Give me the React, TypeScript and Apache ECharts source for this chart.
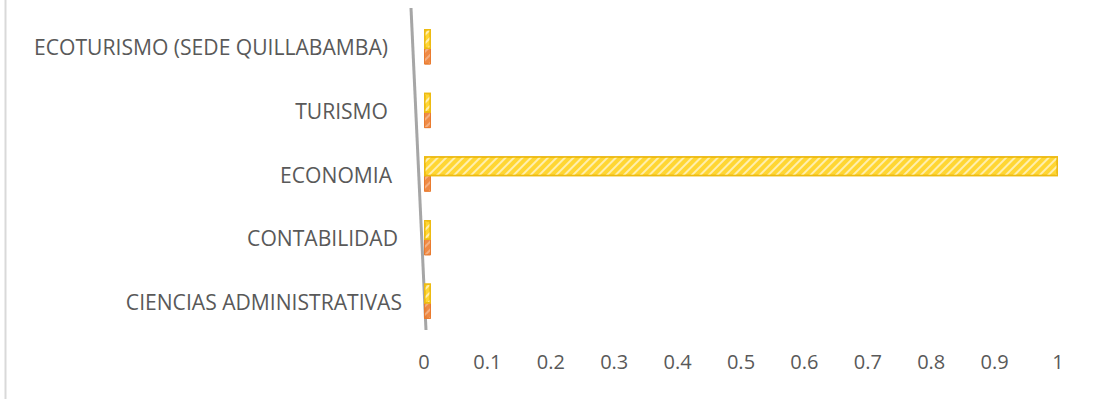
import React, { useEffect, useRef } from "react";
import * as echarts from "echarts";

const categories = [
  "CIENCIAS ADMINISTRATIVAS",
  "CONTABILIDAD",
  "ECONOMIA",
  "TURISMO",
  "ECOTURISMO (SEDE QUILLABAMBA)",
];
const seriesYellow = [0, 0, 1, 0, 0];
const seriesOrange = [0, 0, 0, 0, 0];
const xTicks = [0, 0.1, 0.2, 0.3, 0.4, 0.5, 0.6, 0.7, 0.8, 0.9, 1];

const labelPad = [0, 4, 10, 14, 14];

export default function App() {
  const ref = useRef<HTMLDivElement>(null);
  useEffect(() => {
    document.body.style.margin = "0";
    const chart = echarts.init(ref.current!, null, { renderer: "svg" });
    const rich: Record<string, any> = {};
    labelPad.forEach((p, i) => {
      rich["p" + i] = {
        fontFamily: "Open Sans",
        fontSize: 21.1,
        color: "#595959",
        padding: [0, p, 0, 0],
      };
    });
    const decalBase = {
      symbol: "rect",
      symbolSize: 1,
      dashArrayX: [1, 0],
      dashArrayY: [2, 4],
      rotation: -Math.PI / 4,
    };
    chart.setOption({
      animation: false,
      backgroundColor: "#ffffff",
      textStyle: { fontFamily: "Open Sans" },
      grid: { left: 424, right: 45, top: 15, bottom: 66, containLabel: false },
      xAxis: {
        type: "value",
        min: 0,
        max: 1,
        interval: 0.1,
        axisLine: { show: false },
        axisTick: { show: false },
        splitLine: { show: false },
        axisLabel: {
          margin: 18,
          fontFamily: "Open Sans",
          fontSize: 20,
          color: "#595959",
          formatter: (v: number) => {
            const t = xTicks.find((x) => Math.abs(x - v) < 1e-9);
            return t === undefined ? "" : String(t);
          },
        },
      },
      yAxis: {
        type: "category",
        data: categories,
        axisLine: { show: false },
        axisTick: { show: false },
        splitLine: { show: false },
        axisLabel: {
          margin: 22,
          formatter: (v: string, i: number) => `{p${i}|${v}}`,
          rich,
        },
      },
      graphic: [
        {
          type: "line",
          shape: { x1: 5.5, y1: 0, x2: 5.5, y2: 399 },
          style: { stroke: "#D9D9D9", lineWidth: 2 },
        },
        {
          type: "line",
          z: 0,
          shape: { x1: 411, y1: 8, x2: 426, y2: 330 },
          style: { stroke: "#A6A6A6", lineWidth: 3 },
        },
      ],
      series: [
        {
          type: "bar",
          name: "B",
          data: seriesYellow,
          barWidth: 20,
          barGap: "-8%",
          barMinHeight: 7,
          z: 3,
          itemStyle: {
            color: "#FFD633",
            borderColor: "#EDBB12",
            borderWidth: 1.5,
            decal: { ...decalBase, color: "rgba(255,255,255,0.6)" },
          },
        },
        {
          type: "bar",
          name: "A",
          data: seriesOrange,
          barWidth: 17,
          barGap: "-8%",
          barMinHeight: 7,
          z: 2,
          itemStyle: {
            color: "#ED7D31",
            borderColor: "#E97A2E",
            borderWidth: 1,
            opacity: 0.9,
            decal: { ...decalBase, color: "rgba(255,255,255,0.35)" },
          },
        },
      ],
    });
    return () => chart.dispose();
  }, []);
  return <div ref={ref} style={{ width: 1103, height: 399 }} />;
}
